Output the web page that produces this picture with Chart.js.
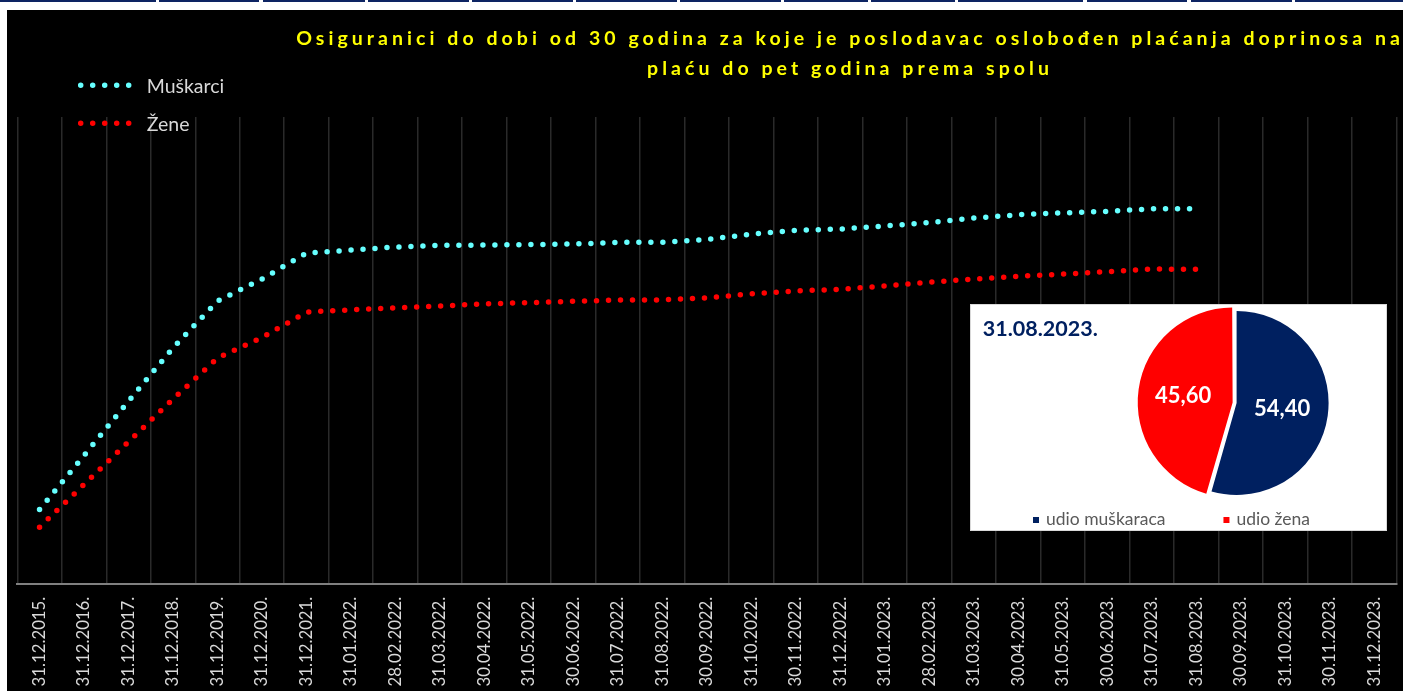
<!DOCTYPE html>
<html>
<head>
<meta charset="utf-8">
<script src="https://cdn.jsdelivr.net/npm/chart.js@4.4.1/dist/chart.umd.min.js"></script>
<style>
  html, body { margin: 0; padding: 0; width: 1403px; height: 691px; overflow: hidden; background: #ffffff; }
  .rule { position: absolute; top: 0; height: 2px; background: #0d2463; }
  #panel { position: absolute; left: 7px; top: 10px; width: 1396px; height: 681px; background: #000000; }
  #main { position: absolute; left: 0; top: 0; }
  #inset { position: absolute; left: 963px; top: 294px; width: 417px; height: 227px; background: #ffffff;
           border: 1px solid #d9d9d9; box-sizing: border-box; }
  #pie { position: absolute; left: 0; top: 0; }
</style>
</head>
<body>
<div id="rules"></div>
<div id="panel">
  <canvas id="main" width="1396" height="681"></canvas>
  <div id="inset"><canvas id="pie" width="415" height="225"></canvas></div>
</div>
<script>
// ---- data -------------------------------------------------------------
const categories = [
  '31.12.2015.', '31.12.2016.', '31.12.2017.', '31.12.2018.', '31.12.2019.', '31.12.2020.', '31.12.2021.',
  '31.01.2022.', '28.02.2022.', '31.03.2022.', '30.04.2022.', '31.05.2022.', '30.06.2022.',
  '31.07.2022.', '31.08.2022.', '30.09.2022.', '31.10.2022.', '30.11.2022.', '31.12.2022.',
  '31.01.2023.', '28.02.2023.', '31.03.2023.', '30.04.2023.', '31.05.2023.', '30.06.2023.',
  '31.07.2023.', '31.08.2023.', '30.09.2023.', '31.10.2023.', '30.11.2023.', '31.12.2023.'
];
const seriesNames = ['Muškarci', 'Žene'];
const muskarci = [
  7950, 13740, 19560, 25270, 30280, 32640, 35420,
  35740, 36070, 36250, 36280, 36330, 36390, 36570, 36570, 36870, 37460, 37860, 38000,
  38320, 38690, 39170, 39530, 39730, 39890, 40160, 40170,
  null, null, null, null
];
const zene = [
  6060, 10630, 15210, 19780, 24170, 26370, 29100,
  29340, 29550, 29740, 29980, 30110, 30250, 30390, 30410, 30620, 31060, 31370, 31540,
  31890, 32290, 32640, 32940, 33170, 33430, 33710, 33680,
  null, null, null, null
];
const titleLines = [
  'Osiguranici do dobi od 30 godina za koje je poslodavac oslobođen plaćanja doprinosa na',
  'plaću do pet godina prema spolu'
];
const pieDate = '31.08.2023.';
const pieLabels = ['udio muškaraca', 'udio žena'];
const pieShares = [54.40, 45.60];

// ---- sheet cell borders along the top edge ------------------------------
const ruleSpans = [[0,156],[159,259],[263,365],[368,469],[472,573],[576,677],[680,781],
                   [784,868],[871,955],[958,1083],[1087,1187],[1191,1292],[1295,1403]];
const rules = document.getElementById('rules');
ruleSpans.forEach(([a, b]) => {
  const d = document.createElement('div');
  d.className = 'rule';
  d.style.left = a + 'px';
  d.style.width = (b - a) + 'px';
  rules.appendChild(d);
});

// ---- plugins ------------------------------------------------------------
const spacedTitle = {
  id: 'spacedTitle',
  afterDraw(chart, args, o) {
    const c = chart.ctx;
    c.save();
    c.font = `bold ${o.size}px Lato`;
    c.fillStyle = o.color;
    c.textAlign = 'center';
    c.textBaseline = 'alphabetic';
    c.letterSpacing = o.spacing + 'px';
    o.lines.forEach((t, i) => c.fillText(t, o.x + o.spacing / 2, o.y + i * o.lineHeight));
    c.restore();
  }
};

const dotLegend = {
  id: 'dotLegend',
  afterDraw(chart, args, o) {
    const c = chart.ctx;
    chart.data.datasets.forEach((ds, i) => {
      const y = o.y + i * o.rowGap;
      c.save();
      c.strokeStyle = ds.borderColor;
      c.lineWidth = ds.borderWidth;
      c.lineCap = 'round';
      c.setLineDash(ds.borderDash);
      c.beginPath();
      c.moveTo(o.x, y);
      c.lineTo(o.x + o.sample, y);
      c.stroke();
      c.setLineDash([]);
      c.fillStyle = o.color;
      c.font = `${o.size}px Lato`;
      c.textBaseline = 'alphabetic';
      c.fillText(ds.label, o.x + o.sample + o.gap, y + o.baselineShift);
      c.restore();
    });
  }
};

const sliceValues = {
  id: 'sliceValues',
  afterDatasetsDraw(chart, args, o) {
    const c = chart.ctx;
    const meta = chart.getDatasetMeta(0);
    const values = chart.data.datasets[0].data;
    c.save();
    c.font = `bold ${o.size}px Lato`;
    c.fillStyle = o.color;
    c.textAlign = 'center';
    c.textBaseline = 'middle';
    meta.data.forEach((arc, i) => {
      const p = arc.tooltipPosition();
      c.fillText(values[i].toFixed(2).replace('.', ','), p.x, p.y);
    });
    c.restore();
  }
};

const pieExtras = {
  id: 'pieExtras',
  afterDraw(chart, args, o) {
    const c = chart.ctx;
    c.save();
    // heading
    c.font = `bold ${o.headSize}px Lato`;
    c.fillStyle = o.headColor;
    c.textBaseline = 'alphabetic';
    c.fillText(o.heading, o.headX, o.headY);
    // key
    c.font = `${o.keySize}px Lato`;
    let x = o.keyX;
    const colors = chart.data.datasets[0].backgroundColor;
    chart.data.labels.forEach((lab, i) => {
      c.fillStyle = colors[i];
      c.fillRect(x, o.keyY - o.box, o.box, o.box);
      x += o.box + o.boxGap;
      c.fillStyle = o.keyColor;
      c.fillText(lab, x, o.keyY + o.textShift);
      x += c.measureText(lab).width + o.itemGap;
    });
    c.restore();
  }
};

// ---- line chart -----------------------------------------------------------
new Chart(document.getElementById('main'), {
  type: 'line',
  data: {
    labels: categories,
    datasets: [
      { label: seriesNames[0], data: muskarci, borderColor: '#66FFFF', backgroundColor: '#66FFFF',
        borderWidth: 5.5, borderDash: [0, 12], borderCapStyle: 'round', pointRadius: 0,
        tension: 0, fill: false, spanGaps: false },
      { label: seriesNames[1], data: zene, borderColor: '#FF0000', backgroundColor: '#FF0000',
        borderWidth: 5.5, borderDash: [0, 12], borderCapStyle: 'round', pointRadius: 0,
        tension: 0, fill: false, spanGaps: false }
    ]
  },
  options: {
    responsive: false,
    animation: false,
    devicePixelRatio: 1,
    layout: { padding: { left: 10.3, right: 6.5, top: 107, bottom: 0 } },
    plugins: {
      legend: { display: false },
      title: { display: false },
      tooltip: { enabled: false },
      spacedTitle: { lines: titleLines, x: 841, y: 35, lineHeight: 29.5, size: 19.5, spacing: 4.05, color: '#FFFF00' },
      dotLegend: { x: 73.7, y: 75.3, rowGap: 38, sample: 48.5, gap: 17.5, size: 19.5, color: '#d9d9d9', baselineShift: 7.4 }
    },
    scales: {
      x: {
        offset: true,
        grid: { offset: true, color: '#2a2a2a', lineWidth: 1.5, drawTicks: false },
        border: { color: '#808080', width: 2 },
        ticks: { color: '#d9d9d9', font: { family: 'Lato', size: 16.8 }, minRotation: 90, maxRotation: 90,
                 padding: 13, autoSkip: false },
        afterFit(s) { s.height = 107.3; s.paddingLeft = 0; s.paddingRight = 0; }
      },
      y: { display: false, min: 0, max: 50000 }
    }
  },
  plugins: [spacedTitle, dotLegend]
});

// ---- inset pie ----------------------------------------------------------
new Chart(document.getElementById('pie'), {
  type: 'pie',
  data: {
    labels: pieLabels,
    datasets: [{ data: pieShares, backgroundColor: ['#002060', '#FF0000'], borderWidth: 0,
                 offset: [0, 16], radius: 92 }]
  },
  options: {
    responsive: false,
    animation: false,
    devicePixelRatio: 1,
    layout: { padding: { left: 160.6, right: 44.4, top: 0, bottom: 29 } },
    plugins: {
      legend: { display: false },
      tooltip: { enabled: false },
      sliceValues: { size: 22, color: '#FFFFFF' },
      pieExtras: { heading: pieDate, headX: 11.7, headY: 30.7, headSize: 21.5, headColor: '#002060',
                   keyX: 62, keyY: 218, box: 6, boxGap: 7, itemGap: 58, keySize: 17.5, keyColor: '#595959', textShift: 2 }
    }
  },
  plugins: [sliceValues, pieExtras]
});
</script>
</body>
</html>
